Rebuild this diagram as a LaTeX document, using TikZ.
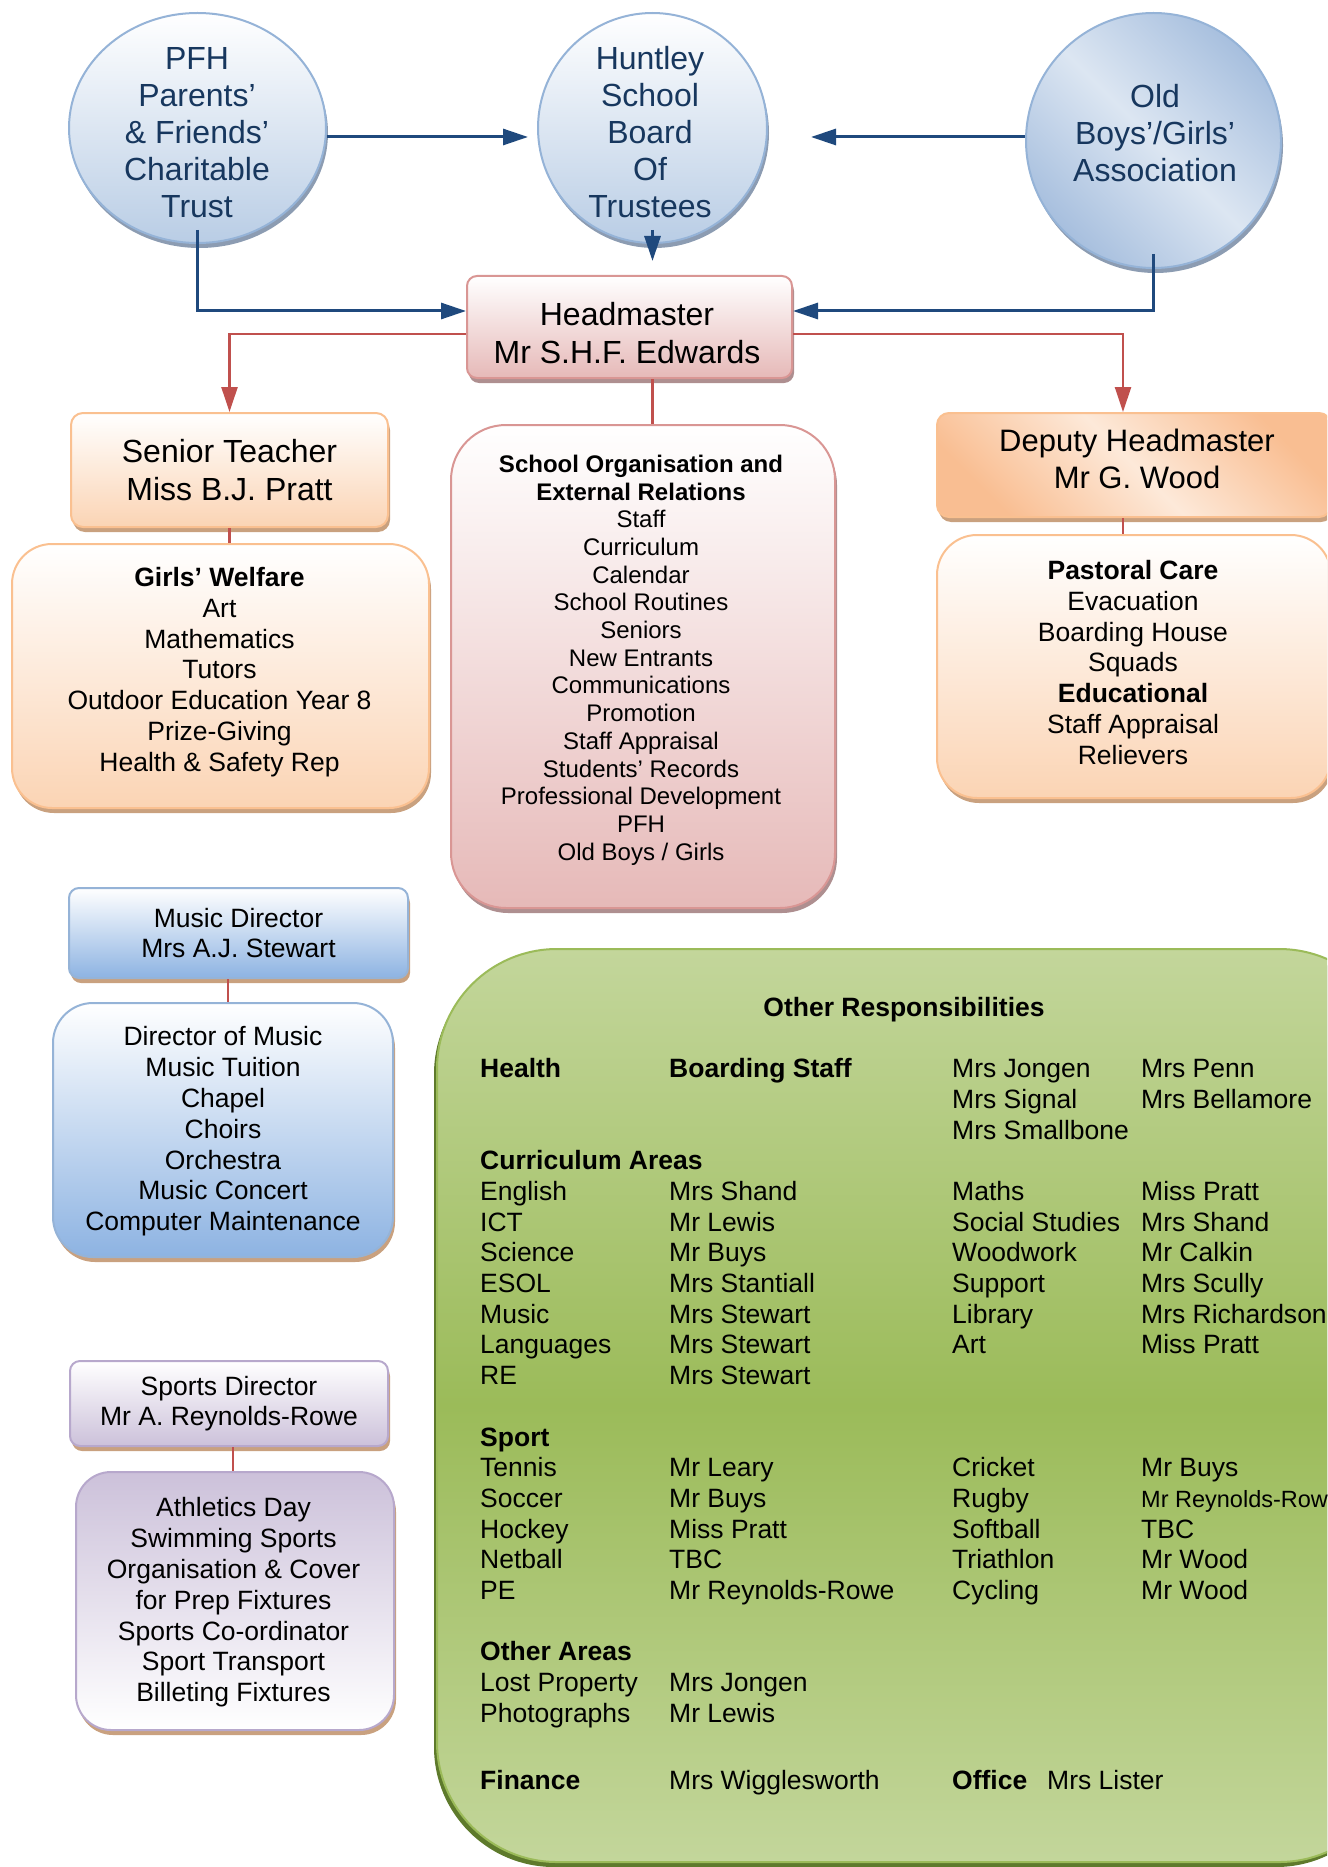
\documentclass[tikz,border=0pt]{standalone}
\usepackage{fontspec}
\setmainfont{Liberation Sans}
\usetikzlibrary{shapes.geometric,arrows.meta,shadows}

\definecolor{navy}{HTML}{17375E}
\definecolor{arrowblue}{HTML}{1F497D}
\definecolor{linered}{HTML}{C0504D}
\definecolor{circleblue}{HTML}{B9CDE5}
\definecolor{circledeep}{HTML}{A7BFDE}
\definecolor{circlepale}{HTML}{DCE6F2}
\definecolor{circleedge}{HTML}{95B3D7}
\definecolor{circleshade}{HTML}{8C9CB2}
\definecolor{pinkfill}{HTML}{E6B9B8}
\definecolor{pinkedge}{HTML}{D99694}
\definecolor{pinkshade}{HTML}{AE8F90}
\definecolor{orangefill}{HTML}{FBD4B4}
\definecolor{orangedeep}{HTML}{F9BE92}
\definecolor{orangepale}{HTML}{FDE9D9}
\definecolor{orangeedge}{HTML}{FAC090}
\definecolor{tanshade}{HTML}{C9A17F}
\definecolor{bluefill}{HTML}{8DB3E2}
\definecolor{blueedge}{HTML}{95B3D7}
\definecolor{lilacfill}{HTML}{CCC1DA}
\definecolor{lilacedge}{HTML}{B7A8CC}
\definecolor{greenlight}{HTML}{C3D69B}
\definecolor{greendark}{HTML}{9BBB59}
\definecolor{greenshade}{HTML}{5E7A2C}

\tikzset{
  roundball/.style={ellipse, draw=circleedge, line width=2pt, top color=white,
    bottom color=circleblue, inner sep=0pt,
    drop shadow={shadow xshift=2pt, shadow yshift=-5pt, fill=circleshade, opacity=1}},
  balltext/.style={align=center, text=navy, font=\fontsize{32}{37}\selectfont},
  pinkbox/.style={rectangle, draw=pinkedge, line width=2pt, top color=white,
    bottom color=pinkfill, inner sep=0pt,
    drop shadow={shadow xshift=2pt, shadow yshift=-5pt, fill=pinkshade, opacity=1}},
  orangebox/.style={rectangle, draw=orangeedge, line width=2pt, top color=white,
    bottom color=orangefill, inner sep=0pt,
    drop shadow={shadow xshift=2pt, shadow yshift=-5pt, fill=tanshade, opacity=1}},
  bluebox/.style={rectangle, draw=blueedge, line width=2pt, top color=white,
    bottom color=bluefill, inner sep=0pt,
    drop shadow={shadow xshift=2pt, shadow yshift=-5pt, fill=tanshade, opacity=1}},
  lilacbox/.style={rectangle, draw=lilacedge, line width=2pt, top color=white,
    bottom color=lilacfill, inner sep=0pt,
    drop shadow={shadow xshift=2pt, shadow yshift=-5pt, fill=tanshade, opacity=1}},
  greenbox/.style={rectangle, draw=greendark, line width=2pt, top color=greenlight,
    bottom color=greenlight, middle color=greendark, inner sep=0pt,
    drop shadow={shadow xshift=-3pt, shadow yshift=-5pt, fill=greenshade, opacity=1}},
  bigtext/.style={align=center, font=\fontsize{32}{37.5}\selectfont},
  listtext/.style={align=center, font=\fontsize{26.5}{30.8}\selectfont},
  entry/.style={anchor=mid west, inner sep=0pt, font=\fontsize{26.5}{30.8}\selectfont},
  bluearrow/.style={-{Triangle[length=25pt,width=16pt]}, draw=arrowblue, line width=3pt},
  redarrow/.style={-{Triangle[length=25pt,width=16pt]}, draw=linered, line width=2.5pt},
  redline/.style={draw=linered, line width=2.5pt}
}

\begin{document}
\begin{tikzpicture}[x=1pt,y=-1pt]
\useasboundingbox (0,0) rectangle (1327,1867);
\clip (0,0) rectangle (1327,1867);

% top row
\node[roundball, minimum width=257pt, minimum height=230pt] (pfh) at (197.5,128) {};
\node[balltext] (pfhtext) at (197,133) {PFH\\Parents'\\\& Friends'\\Charitable\\Trust};
\node[roundball, minimum width=229pt, minimum height=230pt] (huntley) at (652.5,128) {};
\node[balltext] (huntleytext) at (650,132) {Huntley\\School\\Board\\Of\\Trustees};
\node[roundball, minimum width=255pt, minimum height=255pt, top color=circledeep,
  bottom color=circledeep, middle color=circlepale, shading angle=-45] (oldboys) at (1153.5,140.5) {};
\node[balltext] (oldboystext) at (1155,133) {Old\\Boys'/Girls'\\Association};

\node[pinkbox, rounded corners=10pt, minimum width=325pt, minimum height=102pt] (head) at (629.5,327) {};
\node[bigtext, font=\fontsize{32}{38}\selectfont] (headtext) at (627,333) {Headmaster\\Mr S.H.F. Edwards};

\draw[bluearrow] ([yshift=-9pt]pfh.east) to ([xshift=-9pt,yshift=-9pt]huntley.west);
\draw[bluearrow] ([yshift=3.5pt]oldboys.west) to ([xshift=43pt,yshift=-9pt]huntley.east);
\draw[bluearrow] ([yshift=14pt]huntley.south) to ([yshift=14pt]huntley.south |- head.north);
\draw[bluearrow] ([yshift=14pt]pfh.south) |- ([yshift=16pt]head.west);
\draw[bluearrow] ([yshift=15pt]oldboys.south) |- ([yshift=16pt]head.east);

% second row
\node[orangebox, rounded corners=12pt, minimum width=317pt, minimum height=114pt, bigtext]
  (senior) at (229.5,470) {Senior Teacher\\Miss B.J. Pratt};
\node[orangebox, rounded corners=40pt, minimum width=417pt, minimum height=264pt] (welfare) at (220.5,676) {};
\node[listtext] (welfaretext) at (219.5,672) {\textbf{Girls' Welfare}\\Art\\Mathematics\\Tutors\\Outdoor Education Year 8\\Prize-Giving\\Health \& Safety Rep};

\node[pinkbox, rounded corners=55pt, minimum width=384pt, minimum height=483pt] (org) at (643,666.5) {};
\node[align=center, font=\fontsize{24}{27.7}\selectfont] (orgtext) at (641,660) {\textbf{School Organisation and}\\\textbf{External Relations}\\Staff\\Curriculum\\Calendar\\School Routines\\Seniors\\New Entrants\\Communications\\Promotion\\Staff Appraisal\\Students' Records\\Professional Development\\PFH\\Old Boys / Girls};

\node[orangebox, rounded corners=12pt, minimum width=394pt, minimum height=104pt, top color=orangedeep,
  bottom color=orangedeep, middle color=orangepale, shading angle=-45] (deputy) at (1134,465) {};
\node[bigtext, font=\fontsize{31}{37}\selectfont] (deputytext) at (1137,459) {Deputy Headmaster\\Mr G. Wood};
\node[orangebox, rounded corners=40pt, minimum width=394pt, minimum height=263pt] (pastoral) at (1134,666.5) {};
\node[listtext] (pastoraltext) at (1133,662.5) {\textbf{Pastoral Care}\\Evacuation\\Boarding House\\Squads\\\textbf{Educational}\\Staff Appraisal\\Relievers};

\draw[redarrow] ([yshift=-7pt]head.west) -| (senior.north);
\draw[redarrow] ([yshift=-7pt]head.east) -| ([xshift=-11pt]deputy.north);
\draw[redline] (huntley.south |- head.south) to (huntley.south |- org.north);
\draw[redline] (senior.south) to (senior.south |- welfare.north);
\draw[redline] ([xshift=-11pt]deputy.south) to ([xshift=-11pt]deputy.south |- pastoral.north);

% music and sport
\node[bluebox, rounded corners=10pt, minimum width=339pt, minimum height=90pt, listtext,
  font=\fontsize{26.5}{30}\selectfont] (musicdir) at (238.5,933) {Music Director\\Mrs A.J. Stewart};
\node[bluebox, rounded corners=40pt, minimum width=340pt, minimum height=254pt] (music) at (223,1130) {};
\node[listtext] (musictext) at (223,1131.5) {Director of Music\\Music Tuition\\Chapel\\Choirs\\Orchestra\\Music Concert\\Computer Maintenance};
\draw[redline, line width=2pt] ([xshift=-11pt]musicdir.south) to ([xshift=-11pt]musicdir.south |- music.north);

\node[lilacbox, rounded corners=10pt, minimum width=318pt, minimum height=85pt, listtext,
  font=\fontsize{26.5}{29.5}\selectfont] (sportsdir) at (229,1403.5) {Sports Director\\Mr A. Reynolds-Rowe};
\node[lilacbox, rounded corners=35pt, minimum width=318pt, minimum height=258pt, top color=lilacfill,
  bottom color=white] (sportslist) at (235,1601) {};
\node[listtext] (sportstext) at (233.5,1602.5) {Athletics Day\\Swimming Sports\\Organisation \& Cover\\for Prep Fixtures\\Sports Co-ordinator\\Sport Transport\\Billeting Fixtures};
\draw[redline, line width=2pt] ([xshift=4pt]sportsdir.south) to ([xshift=4pt]sportsdir.south |- sportslist.north);

% other responsibilities
\node[greenbox, rounded corners=120pt, minimum width=962pt, minimum height=913pt] (other) at (918,1405.5) {};
\node[listtext] (othertitle) at (904,1010) {\textbf{Other Responsibilities}};

\node[entry] (health) at (480,1075) {\textbf{Health}};
\node[entry] (boarding) at (669,1075) {\textbf{Boarding Staff}};
\foreach \who [count=\k from 0] in {Mrs Jongen,Mrs Signal,Mrs Smallbone}
  \node[entry] (boardA-\k) at (952,{1075+30.7*\k}) {\who};
\foreach \who [count=\k from 0] in {Mrs Penn,Mrs Bellamore}
  \node[entry] (boardB-\k) at (1141,{1075+30.7*\k}) {\who};

\node[entry] (curriculum) at (480,{1075+30.7*3}) {\textbf{Curriculum Areas}};
\foreach \subj/\who [count=\k from 4] in {English/Mrs Shand,ICT/Mr Lewis,Science/Mr Buys,ESOL/Mrs Stantiall,Music/Mrs Stewart,Languages/Mrs Stewart,RE/Mrs Stewart}
{
  \node[entry] (subjA-\k) at (480,{1075+30.7*\k}) {\subj};
  \node[entry] (teachA-\k) at (669,{1075+30.7*\k}) {\who};
}
\foreach \subj/\who [count=\k from 4] in {Maths/Miss Pratt,Social Studies/Mrs Shand,Woodwork/Mr Calkin,Support/Mrs Scully,Library/Mrs Richardson,Art/Miss Pratt}
{
  \node[entry] (subjB-\k) at (952,{1075+30.7*\k}) {\subj};
  \node[entry] (teachB-\k) at (1141,{1075+30.7*\k}) {\who};
}

\node[entry] (sport) at (480,{1075+30.7*12}) {\textbf{Sport}};
\foreach \game/\who [count=\k from 13] in {Tennis/Mr Leary,Soccer/Mr Buys,Hockey/Miss Pratt,Netball/TBC,PE/Mr Reynolds-Rowe}
{
  \node[entry] (gameA-\k) at (480,{1075+30.7*\k}) {\game};
  \node[entry] (coachA-\k) at (669,{1075+30.7*\k}) {\who};
}
\foreach \game/\who [count=\k from 13] in {Cricket/Mr Buys,Rugby/{\fontsize{23.5}{26}\selectfont Mr Reynolds-Rowe},Softball/TBC,Triathlon/Mr Wood,Cycling/Mr Wood}
{
  \node[entry] (gameB-\k) at (952,{1075+30.7*\k}) {\game};
  \node[entry] (coachB-\k) at (1141,{1075+30.7*\k}) {\who};
}

\node[entry] (otherareas) at (480,{1075+30.7*19}) {\textbf{Other Areas}};
\node[entry] (lost) at (480,{1075+30.7*20}) {Lost Property};
\node[entry] (lostwho) at (669,{1075+30.7*20}) {Mrs Jongen};
\node[entry] (photos) at (480,{1075+30.7*21}) {Photographs};
\node[entry] (photoswho) at (669,{1075+30.7*21}) {Mr Lewis};

\node[entry] (finance) at (480,1787) {\textbf{Finance}};
\node[entry] (financewho) at (669,1787) {Mrs Wigglesworth};
\node[entry] (office) at (952,1787) {\textbf{Office}};
\node[entry] (officewho) at (1047,1787) {Mrs Lister};
\end{tikzpicture}
\end{document}
